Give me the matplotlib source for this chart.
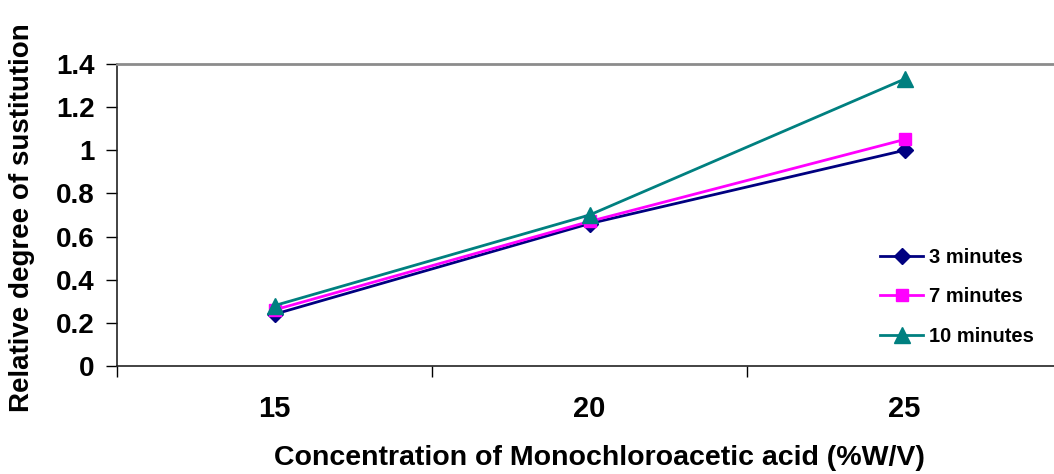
import matplotlib
matplotlib.use("Agg")
import matplotlib.pyplot as plt

plt.rcParams["font.family"] = ["Liberation Sans", "DejaVu Sans"]
plt.rcParams["font.weight"] = "bold"

concentrations = ["15", "20", "25"]
series_names = ["3 minutes", "7 minutes", "10 minutes"]
ds_3min = [0.24, 0.66, 1.00]
ds_7min = [0.26, 0.67, 1.05]
ds_10min = [0.28, 0.70, 1.33]
y_ticks = [0, 0.2, 0.4, 0.6, 0.8, 1, 1.2, 1.4]

styles = [
    dict(color="#000080", marker="D", markersize=8),
    dict(color="#FF00FF", marker="s", markersize=9),
    dict(color="#008080", marker="^", markersize=11),
]

W, H = 1054, 474
fig = plt.figure(figsize=(W / 100, H / 100), dpi=100)
ax = fig.add_axes([117 / W, 1 - 366 / H, (1062 - 117) / W, (366 - 64) / H])

x = list(range(len(concentrations)))
for name, vals, st in zip(series_names, [ds_3min, ds_7min, ds_10min], styles):
    ax.plot(x, vals, linewidth=2, label=name, markeredgecolor=st["color"],
            **st)

ax.set_xlim(-0.5, 2.5)
ax.set_ylim(0, 1.4)
ax.set_yticks(y_ticks)
ax.set_yticklabels([f"{v:g}" for v in y_ticks])

# category axis: ticks between categories, labels centred on them
ax.set_xticks([-0.5, 0.5, 1.5, 2.5])
ax.set_xticklabels([])
ax.set_xticks(x, minor=True)
ax.set_xticklabels(concentrations, minor=True)
ax.tick_params(axis="x", which="minor", length=0, pad=21, labelsize=21)
ax.tick_params(axis="x", which="major", direction="out", length=8, width=1)
ax.tick_params(axis="y", direction="out", length=8, width=1, pad=8,
               labelsize=20)

for side in ("left", "bottom"):
    ax.spines[side].set_color("#222222")
    ax.spines[side].set_linewidth(1.2)
ax.spines["top"].set_color("#8c8c8c")
ax.spines["top"].set_linewidth(2)
ax.spines["right"].set_visible(False)

fig.text(599 / W, 3 / H, "Concentration of Monochloroacetic acid (%W/V)",
         ha="center", va="bottom", fontsize=20.5, fontweight="bold")
fig.text(22 / W, 1 - 218 / H, "Relative degree of sustitution",
         ha="center", va="center", rotation=90, fontsize=20,
         fontweight="bold")

fig.legend(loc="center left", bbox_to_anchor=(870 / W, 1 - 297 / H),
           frameon=False, borderpad=0, handlelength=2.15,
           handletextpad=0.3, labelspacing=1.0,
           prop=dict(weight="bold", size=14.5))

fig.savefig("out.png", dpi=100)
